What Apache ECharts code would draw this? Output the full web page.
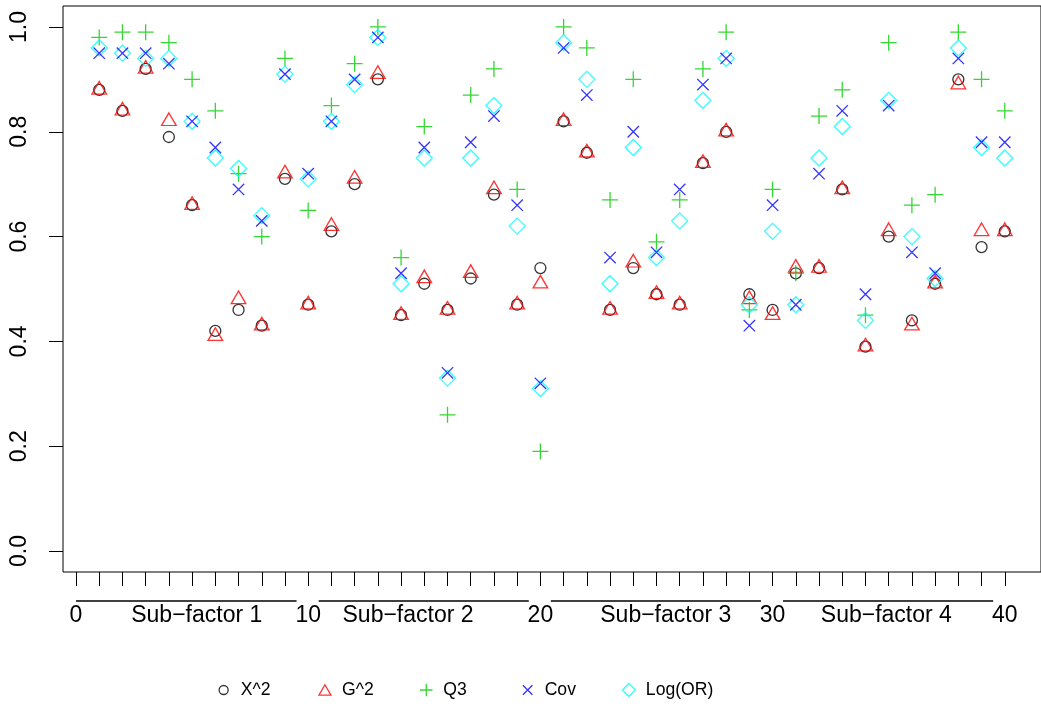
<!DOCTYPE html>
<html>
<head>
<meta charset="utf-8">
<script src="https://cdn.jsdelivr.net/npm/echarts@6/dist/echarts.min.js"></script>
<style>
  html, body { margin: 0; padding: 0; background: #fff; }
  #chart { width: 1041px; height: 706px; }
</style>
</head>
<body>
<div id="chart"></div>
<script>
// Item numbers along the x axis
const items = [1, 2, 3, 4, 5, 6, 7, 8, 9, 10,
               11, 12, 13, 14, 15, 16, 17, 18, 19, 20,
               21, 22, 23, 24, 25, 26, 27, 28, 29, 30,
               31, 32, 33, 34, 35, 36, 37, 38, 39, 40];

// Statistic names, in legend order
const seriesNames = ['X^2', 'G^2', 'Q3', 'Cov', 'Log(OR)'];

// Values per item for each statistic
const chiSq = [0.88, 0.84, 0.92, 0.79, 0.66, 0.42, 0.46, 0.43, 0.71, 0.47,
               0.61, 0.70, 0.90, 0.45, 0.51, 0.46, 0.52, 0.68, 0.47, 0.54,
               0.82, 0.76, 0.46, 0.54, 0.49, 0.47, 0.74, 0.80, 0.49, 0.46,
               0.53, 0.54, 0.69, 0.39, 0.60, 0.44, 0.51, 0.90, 0.58, 0.61];
const gSq   = [0.88, 0.84, 0.92, 0.82, 0.66, 0.41, 0.48, 0.43, 0.72, 0.47,
               0.62, 0.71, 0.91, 0.45, 0.52, 0.46, 0.53, 0.69, 0.47, 0.51,
               0.82, 0.76, 0.46, 0.55, 0.49, 0.47, 0.74, 0.80, 0.48, 0.45,
               0.54, 0.54, 0.69, 0.39, 0.61, 0.43, 0.51, 0.89, 0.61, 0.61];
const q3    = [0.98, 0.99, 0.99, 0.97, 0.90, 0.84, 0.72, 0.60, 0.94, 0.65,
               0.85, 0.93, 1.00, 0.56, 0.81, 0.26, 0.87, 0.92, 0.69, 0.19,
               1.00, 0.96, 0.67, 0.90, 0.59, 0.67, 0.92, 0.99, 0.46, 0.69,
               0.53, 0.83, 0.88, 0.45, 0.97, 0.66, 0.68, 0.99, 0.90, 0.84];
const cov   = [0.95, 0.95, 0.95, 0.93, 0.82, 0.77, 0.69, 0.63, 0.91, 0.72,
               0.82, 0.90, 0.98, 0.53, 0.77, 0.34, 0.78, 0.83, 0.66, 0.32,
               0.96, 0.87, 0.56, 0.80, 0.57, 0.69, 0.89, 0.94, 0.43, 0.66,
               0.47, 0.72, 0.84, 0.49, 0.85, 0.57, 0.53, 0.94, 0.78, 0.78];
const logOR = [0.96, 0.95, 0.94, 0.94, 0.82, 0.75, 0.73, 0.64, 0.91, 0.71,
               0.82, 0.89, 0.98, 0.51, 0.75, 0.33, 0.75, 0.85, 0.62, 0.31,
               0.97, 0.90, 0.51, 0.77, 0.56, 0.63, 0.86, 0.94, 0.47, 0.61,
               0.47, 0.75, 0.81, 0.44, 0.86, 0.60, 0.52, 0.96, 0.77, 0.75];

// Axis ticks and labels
const yTicks = [0, 0.2, 0.4, 0.6, 0.8, 1.0];
const xTicks = [0, 1, 2, 3, 4, 5, 6, 7, 8, 9, 10,
                11, 12, 13, 14, 15, 16, 17, 18, 19, 20,
                21, 22, 23, 24, 25, 26, 27, 28, 29, 30,
                31, 32, 33, 34, 35, 36, 37, 38, 39, 40];
const xNumberLabels = ['0', '10', '20', '30', '40'];
const groupNames = ['Sub\u2212factor 1', 'Sub\u2212factor 2', 'Sub\u2212factor 3', 'Sub\u2212factor 4'];

// Layout helpers (axis coordinates)
const numberLabelAt = [0, 10, 20, 30, 40];
const groupLabelAt = [5.2, 14.3, 25.4, 34.9];
const groupSpans = [[0, 9.5], [10.45, 19.5], [20.45, 29.5], [30.45, 39.5]];
const xMin = -0.56, xMax = 41.56, yMin = -0.04, yMax = 1.04;

const FONT = '"Liberation Sans", Arial, Helvetica, sans-serif';
const LW = 1.3;

const labelText = new Map();
numberLabelAt.forEach((v, i) => labelText.set(v, xNumberLabels[i]));
groupLabelAt.forEach((v, i) => labelText.set(v, groupNames[i]));

const plusPath = 'path://M0 5L10 5M5 0L5 10';
const crossPath = 'path://M0 0L10 10M10 0L0 10';

const styles = {
  'X^2':     { color: '#000000', symbol: 'circle',   size: 11,           offset: [0, 0],    legendIcon: 'circle',   lw: 9,    lh: 9 },
  'G^2':     { color: '#FF0000', symbol: 'triangle', size: [14.6, 12.6], offset: [0, -2.1], legendIcon: 'triangle', lw: 12,   lh: 10.4 },
  'Q3':      { color: '#00CD00', symbol: plusPath,   size: 16,           offset: [0, 0],    legendIcon: plusPath,   lw: 12.5, lh: 12.5 },
  'Cov':     { color: '#0000FF', symbol: crossPath,  size: 11.4,         offset: [0, 0],    legendIcon: crossPath,  lw: 9.5,  lh: 9.5 },
  'Log(OR)': { color: '#00FFFF', symbol: 'diamond',  size: 16,           offset: [0, 0],    legendIcon: 'diamond',  lw: 13,   lh: 13 }
};
const valuesByName = { 'X^2': chiSq, 'G^2': gSq, 'Q3': q3, 'Cov': cov, 'Log(OR)': logOR };
// drawing order: Cov crosses sit on top of the Log(OR) diamonds
const drawOrder = ['X^2', 'G^2', 'Q3', 'Log(OR)', 'Cov'];

const series = drawOrder.map(name => {
  const s = styles[name];
  return {
    name,
    type: 'scatter',
    symbol: s.symbol,
    symbolSize: s.size,
    symbolOffset: s.offset,
    symbolKeepAspect: true,
    color: s.color,
    itemStyle: { color: 'transparent', borderColor: s.color, borderWidth: LW },
    emphasis: { disabled: true },
    clip: false,
    data: items.map((x, i) => [x, valuesByName[name][i]])
  };
});

// legend entries laid out in equal columns
const legendCenters = [223, 324.3, 425.6, 527, 628.2];
const legends = seriesNames.map((name, i) => {
  const s = styles[name];
  return {
    left: legendCenters[i] - s.lw / 2,
    top: 681,
    padding: 0,
    orient: 'horizontal',
    itemWidth: s.lw,
    itemHeight: s.lh,
    selectedMode: false,
    data: [{
      name,
      icon: s.legendIcon,
      itemStyle: { color: 'transparent', borderColor: s.color, borderWidth: LW }
    }],
    textStyle: {
      fontFamily: FONT, fontSize: 17.6, color: '#000',
      padding: [0, 0, 0, 17 - s.lw / 2 - 5]
    }
  };
});

const chart = echarts.init(document.getElementById('chart'), null, { renderer: 'canvas' });

const option = {
  animation: false,
  backgroundColor: '#fff',
  grid: {
    left: 63, top: 6, right: -2, bottom: 134,
    show: true, borderColor: '#000', borderWidth: 1, backgroundColor: 'transparent'
  },
  xAxis: {
    type: 'value',
    min: xMin, max: xMax,
    splitLine: { show: false },
    axisLine: { show: false, onZero: false },
    axisTick: {
      show: true, inside: false, length: 14,
      customValues: xTicks,
      lineStyle: { color: '#000', width: 1 }
    },
    axisLabel: {
      show: true, margin: 32,
      customValues: numberLabelAt.concat(groupLabelAt),
      formatter: v => {
        for (const [k, t] of labelText) if (Math.abs(k - v) < 1e-6) return t;
        return '';
      },
      fontFamily: FONT, fontSize: 23, color: '#000'
    }
  },
  yAxis: {
    type: 'value',
    min: yMin, max: yMax,
    splitLine: { show: false },
    axisLine: { show: false, onZero: false },
    axisTick: {
      show: true, inside: false, length: 14,
      customValues: yTicks,
      lineStyle: { color: '#000', width: 1 }
    },
    axisLabel: {
      show: true, rotate: 90, margin: 32,
      customValues: yTicks,
      formatter: v => v.toFixed(1),
      fontFamily: FONT, fontSize: 23, color: '#000'
    }
  },
  legend: legends,
  series
};

chart.setOption(option);

// brackets under the x axis marking each sub-factor's items
const bottomPx = chart.convertToPixel({ gridIndex: 0 }, [0, yMin])[1];
const bracketY = bottomPx + 29;
const brackets = groupSpans.map(([a, b]) => {
  const x1 = chart.convertToPixel({ gridIndex: 0 }, [a, 0])[0];
  const x2 = chart.convertToPixel({ gridIndex: 0 }, [b, 0])[0];
  return {
    type: 'line', silent: true,
    shape: { x1, y1: bracketY, x2, y2: bracketY },
    style: { stroke: '#000', lineWidth: 1.6 }
  };
});
chart.setOption({ graphic: brackets });
</script>
</body>
</html>
